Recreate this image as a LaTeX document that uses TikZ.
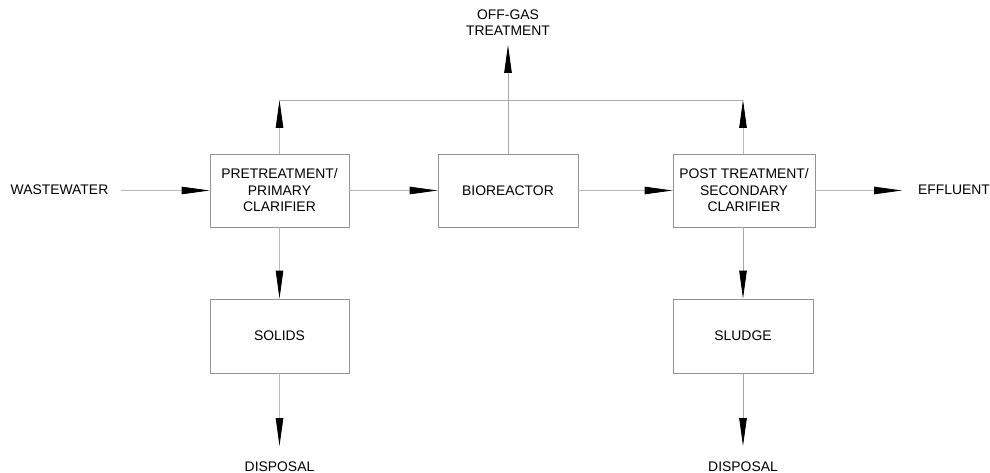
\documentclass[tikz,border=0pt]{standalone}
\usepackage{fontspec}
\setmainfont{Liberation Sans}
\usetikzlibrary{arrows.meta}
\begin{document}
\begin{tikzpicture}[x=1pt,y=-1pt,
  font=\fontsize{13.9}{16.5}\selectfont,
  blk/.style={draw=gray!85, line width=0.8pt, minimum height=73pt, inner sep=0pt, align=center},
  lbl/.style={inner sep=0pt, align=center},
  flow/.style={draw=gray!55, line width=0.8pt, -{Triangle[length=28pt,width=7.5pt,black]}},
  pipe/.style={draw=gray!65, line width=0.9pt}]
\useasboundingbox (0,0) rectangle (990,473);
\node[blk, minimum width=139pt] (pre) at (279.5,190.5) {PRETREATMENT/\\PRIMARY\\CLARIFIER};
\node[blk, minimum width=140pt] (bio) at (508,190.5) {BIOREACTOR};
\node[blk, minimum width=142pt] (post) at (744,190.5) {POST TREATMENT/\\SECONDARY\\CLARIFIER};
\node[blk, minimum width=139pt, minimum height=74pt] (sol) at (279.5,336) {SOLIDS};
\node[blk, minimum width=140pt, minimum height=74pt] (slu) at (743,336) {SLUDGE};
\node[lbl] (ww) at (59.5,190) {WASTEWATER};
\node[lbl] (eff) at (954,190) {EFFLUENT};
\node[lbl] (off) at (508,22.5) {OFF-GAS\\TREATMENT};
\node[lbl] (d1) at (279.5,467) {DISPOSAL};
\node[lbl] (d2) at (743,467) {DISPOSAL};
\coordinate (jl) at (279.5,100);
\coordinate (jr) at (743,100);
\coordinate (ot) at (508,45);
\coordinate (wsrc) at (121,190.5);
\coordinate (etip) at (902,190.5);
\coordinate (d1t) at (279.5,446);
\coordinate (d2t) at (743,446);
\draw[flow] (wsrc) -- (pre.west);
\draw[flow] (pre.east) -- (bio.west);
\draw[flow] (bio.east) -- (post.west);
\draw[flow] (post.east) -- (etip);
\draw[flow] (pre.north) -- (jl);
\draw[flow] (post.north -| jr) -- (jr);
\draw[pipe] (jl) -- (jr);
\draw[flow, draw=gray!70] (bio.north) -- (ot);
\draw[flow] (pre.south) -- (sol.north);
\draw[flow, draw=gray!70] (post.south -| slu.north) -- (slu.north);
\draw[flow] (sol.south) -- (d1t);
\draw[flow, draw=gray!70] (slu.south) -- (d2t);
\end{tikzpicture}
\end{document}
